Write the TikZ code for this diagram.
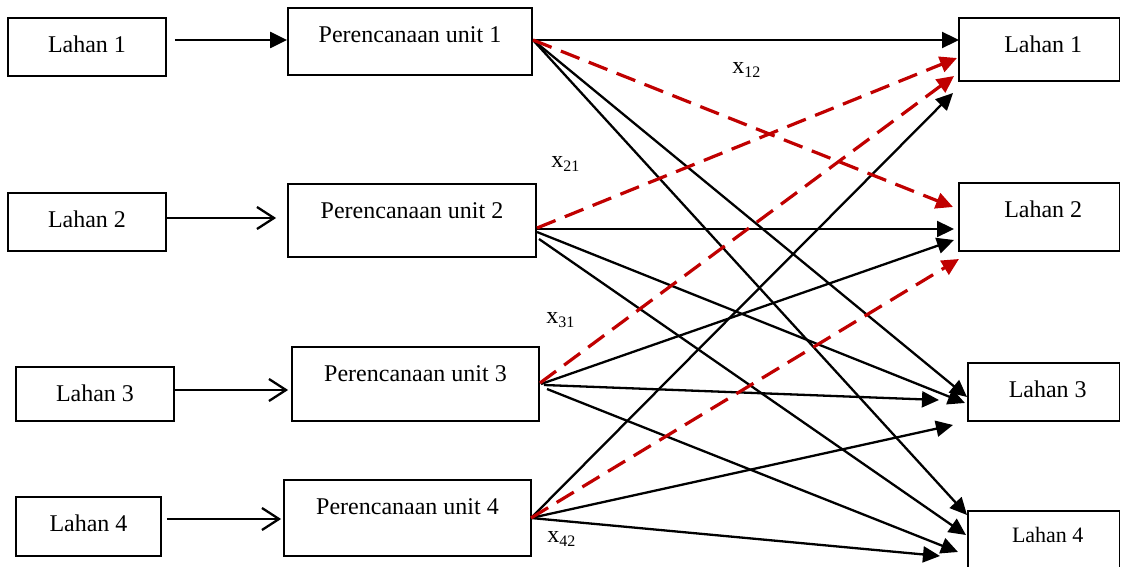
\documentclass[tikz,border=0pt]{standalone}
\usepackage{fontspec}
\setmainfont{Liberation Serif}
\usetikzlibrary{arrows.meta}
\definecolor{dred}{RGB}{192,0,0}
\begin{document}
\begin{tikzpicture}[x=0.5pt, y=-0.5pt,
  bx/.style={draw, line width=0.9pt, inner sep=0pt},
  tx/.style={label={[anchor=base, yshift=-17.5pt, inner sep=0pt, font=\fontsize{12}{14}\selectfont]north:#1}},
  txr/.style={label={[anchor=base, xshift=2pt, yshift=-17.5pt, inner sep=0pt, font=\fontsize{12}{14}\selectfont]north:#1}},
  txs/.style={label={[anchor=base, xshift=2pt, yshift=-16pt, inner sep=0pt, font=\fontsize{11}{13}\selectfont]north:#1}},
  blk/.style={line width=1.15pt, -{Triangle[length=8.5pt,width=8pt]}},
  rd/.style={dred, line width=1.6pt, dash pattern=on 10pt off 5pt, -{Triangle[length=8.5pt,width=8pt]}},
  barb/.style={line width=1.15pt, -{Straight Barb[length=8.5pt,width=11pt]}},
  lbl/.style={anchor=base west, inner sep=0pt, font=\fontsize{12}{14}\selectfont}
]
\useasboundingbox (0,0) rectangle (1121,567);
\clip (0,0) rectangle (1121,567);

% left boxes
\node[bx, minimum width=79pt, minimum height=29pt, tx={Lahan 1}] (L1) at (87,47) {};
\node[bx, minimum width=79pt, minimum height=29pt, tx={Lahan 2}] (L2) at (87,222) {};
\node[bx, minimum width=79pt, minimum height=27pt, tx={Lahan 3}] (L3) at (95,394) {};
\node[bx, minimum width=72.5pt, minimum height=29.5pt, tx={Lahan 4}] (L4) at (88.5,526.5) {};

% middle boxes
\node[bx, minimum width=122pt, minimum height=33.5pt, tx={Perencanaan unit 1}] (P1) at (410,41.5) {};
\node[bx, minimum width=124pt, minimum height=36.5pt, tx={Perencanaan unit 2}] (P2) at (412,220.5) {};
\node[bx, minimum width=123.5pt, minimum height=37pt, tx={Perencanaan unit 3}] (P3) at (415.5,384) {};
\node[bx, minimum width=123.5pt, minimum height=38pt, tx={Perencanaan unit 4}] (P4) at (407.5,518) {};

% right boxes
\node[bx, minimum width=80.25pt, minimum height=31.5pt, txr={Lahan 1}] (R1) at (1039.25,49.5) {};
\node[bx, minimum width=80.25pt, minimum height=34pt, txr={Lahan 2}] (R2) at (1039.25,217) {};
\node[bx, minimum width=75.75pt, minimum height=29pt, txr={Lahan 3}] (R3) at (1043.75,392) {};
\node[bx, minimum width=75.75pt, minimum height=54.5pt, txs={Lahan 4}] (R4) at (1043.75,565.5) {};

% left to middle arrows
\coordinate (o1) at ([yshift=3.5pt]L1.east);
\coordinate (o2) at ([yshift=2pt]L2.east);
\coordinate (o3) at ([yshift=2pt]L3.east);
\coordinate (o4) at ([yshift=3.75pt]L4.east);
\draw[blk, shorten <=4pt] (o1) -- (o1 -| P1.west);
\draw[barb, shorten >=5.5pt] (o2) -- (o2 -| P2.west);
\draw[barb, shorten >=1.5pt] (o3) -- (o3 -| P3.west);
\draw[barb, shorten <=2.5pt, shorten >=1pt] (o4) -- (o4 -| P4.west);

% sources
\coordinate (s1) at (533,40);
\coordinate (s2r) at (537,228);
\coordinate (s2) at (537,229);
\coordinate (s2b) at (537,232);
\coordinate (s2c) at (539,239);
\coordinate (s3r) at (540,383);
\coordinate (s3a) at (541,384);
\coordinate (s3b) at (544,385);
\coordinate (s3c) at (547,389);
\coordinate (s4) at (531,518);

% targets
\coordinate (t11) at (959,40);
\coordinate (t21) at (957,58);
\coordinate (t31) at (954,76);
\coordinate (t41) at (953,93);
\coordinate (t12) at (953,207);
\coordinate (t22) at (954,229);
\coordinate (t32) at (954,240);
\coordinate (t42) at (959,259);
\coordinate (t13) at (967,397);
\coordinate (t23) at (965,403);
\coordinate (t33) at (939,400);
\coordinate (t43) at (953,425);
\coordinate (t14) at (967,515);
\coordinate (t24) at (966,535);
\coordinate (t34) at (958,552);
\coordinate (t44) at (940,556);

% black connectors
\draw[blk] (s1) -- (t11);
\draw[blk] (s1) -- (t13);
\draw[blk] (s1) -- (t14);
\draw[blk] (s2) -- (t22);
\draw[blk] (s2b) -- (t23);
\draw[blk] (s2c) -- (t24);
\draw[blk] (s3a) -- (t32);
\draw[blk] (s3b) -- (t33);
\draw[blk] (s3c) -- (t34);
\draw[blk] (s4) -- (t41);
\draw[blk] (s4) -- (t43);
\draw[blk] (s4) -- (t44);

% red dashed connectors
\draw[rd] (s1) -- (t12);
\draw[rd] (s2r) -- (t21);
\draw[rd] (s3r) -- (t31);
\draw[rd] (s4) -- (t42);

% labels
\node[lbl] (x12) at (732,74) {x\raisebox{-2pt}{\fontsize{8}{9}\selectfont 12}};
\node[lbl] (x21) at (551,168) {x\raisebox{-2pt}{\fontsize{8}{9}\selectfont 21}};
\node[lbl] (x31) at (546,323) {x\raisebox{-2pt}{\fontsize{8}{9}\selectfont 31}};
\node[lbl] (x42) at (547,542) {x\raisebox{-2pt}{\fontsize{8}{9}\selectfont 42}};
\end{tikzpicture}
\end{document}
